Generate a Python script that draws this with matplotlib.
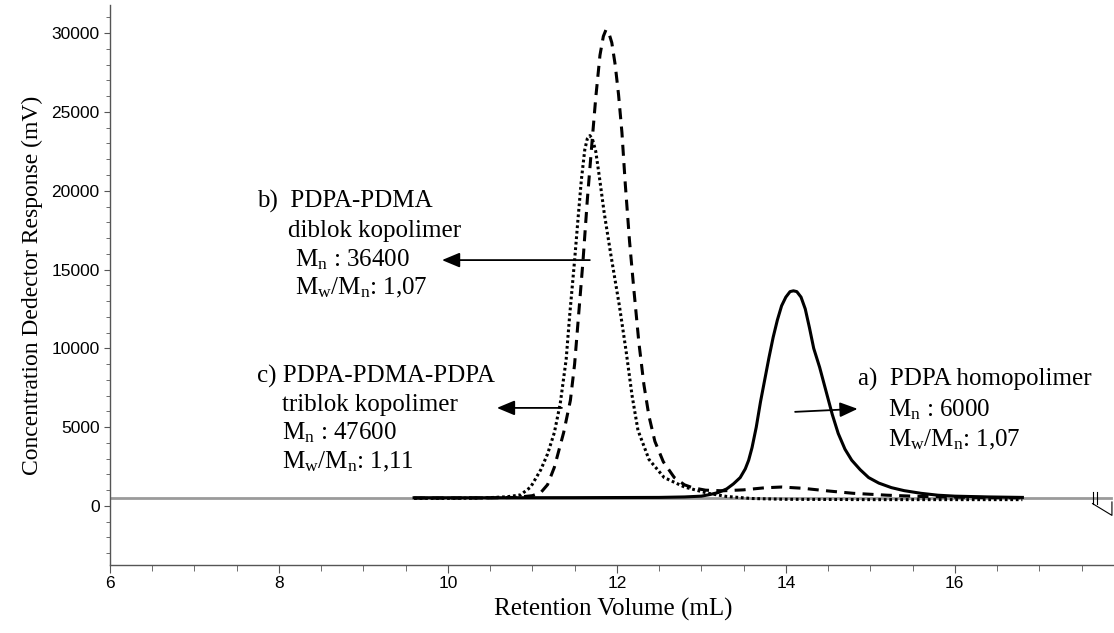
import numpy as np
import matplotlib
matplotlib.use("Agg")
import matplotlib.pyplot as plt
from matplotlib.ticker import MultipleLocator

plt.rcParams['mathtext.fontset'] = 'custom'
plt.rcParams['mathtext.rm'] = 'Liberation Serif'
plt.rcParams['mathtext.it'] = 'Liberation Serif:italic'

# a) PDPA homopolimer (solid)
homo_x = [9.6, 10.5, 11.5, 12.5, 12.8, 13.0, 13.1, 13.2, 13.3, 13.38, 13.46, 13.52, 13.56,
          13.60, 13.65, 13.70, 13.75, 13.80, 13.85, 13.90, 13.95, 14.00, 14.05, 14.09, 14.13,
          14.18, 14.23, 14.28, 14.33, 14.40, 14.48, 14.55, 14.62, 14.70, 14.78, 14.88, 14.98,
          15.1, 15.25, 15.4, 15.6, 15.8, 16.0, 16.4, 16.8]
homo_y = [520, 520, 525, 540, 570, 620, 720, 850, 1080, 1400, 1800, 2350, 2900,
          3700, 5000, 6600, 8000, 9400, 10700, 11800, 12700, 13250, 13600, 13650, 13600,
          13250, 12500, 11300, 10000, 8800, 7200, 5800, 4600, 3600, 2900, 2300, 1800,
          1450, 1160, 970, 800, 680, 620, 570, 540]

# b) PDPA-PDMA diblok (dashed)
diblok_x = [9.6, 10.0, 10.5, 10.8, 11.0, 11.1, 11.18, 11.26, 11.37, 11.45, 11.50, 11.55, 11.60,
            11.65, 11.70, 11.75, 11.80, 11.84, 11.87, 11.90, 11.94, 11.98, 12.02, 12.06, 12.10,
            12.15, 12.20, 12.26, 12.32, 12.38, 12.45, 12.55, 12.68, 12.80, 12.90, 13.05, 13.25,
            13.5, 13.75, 13.95, 14.2, 14.5, 14.8, 15.2, 15.6, 16.0, 16.4, 16.8]
diblok_y = [500, 500, 510, 540, 650, 850, 1350, 2450, 4650, 6700, 9000, 12300, 15600,
            19400, 22700, 25900, 28600, 29800, 30200, 30100, 29400, 28000, 26100, 23700, 20400,
            16800, 13800, 10400, 7700, 5700, 4100, 2800, 1800, 1340, 1150, 1000, 960,
            1020, 1150, 1200, 1120, 950, 800, 680, 600, 560, 530, 520]

# c) PDPA-PDMA-PDPA triblok (dotted)
triblok_x = [9.6, 10.0, 10.4, 10.7, 10.86, 10.98, 11.10, 11.18, 11.26, 11.33, 11.40, 11.44,
             11.50, 11.54, 11.58, 11.62, 11.65, 11.68, 11.71, 11.75, 11.79, 11.85, 11.93, 12.03,
             12.11, 12.18, 12.25, 12.38, 12.56, 12.80, 13.08, 13.3, 13.6, 14.0, 15.0, 16.0, 16.8]
triblok_y = [480, 480, 500, 580, 700, 1200, 2300, 3300, 4650, 6500, 9300, 12000,
             15600, 18200, 20700, 22600, 23300, 23500, 23300, 22500, 21000, 18600, 15900, 12700,
             9800, 7000, 4800, 2950, 1800, 1200, 800, 600, 470, 420, 400, 400, 400]

baseline_x = [6.0, 17.85]
baseline_y = [520, 520]

fig = plt.figure(figsize=(11.14, 6.33), dpi=100)
ax = fig.add_axes([0.0987, 0.1074, 0.904, 0.885])

ax.plot(baseline_x, baseline_y, color='#9a9a9a', lw=2.0, zorder=1)
ax.plot(homo_x, homo_y, color='black', lw=2.2, zorder=3)
ax.plot(diblok_x, diblok_y, color='black', lw=2.2, linestyle=(0, (3.6, 2.4)), zorder=3)
ax.plot(triblok_x, triblok_y, color='black', lw=2.2, linestyle=(0, (0.9, 0.9)), zorder=3)

# little end marker on the right of the baseline
ax.plot([17.63, 17.63], [900, 150], color='black', lw=0.8)
ax.plot([17.68, 17.68], [900, 150], color='black', lw=0.8)
ax.plot([17.63, 17.86, 17.86], [150, -600, 250], color='black', lw=0.8)

ax.set_xlim(6, 17.92)
ax.set_ylim(-3750, 31800)
ax.xaxis.set_major_locator(MultipleLocator(2))
ax.xaxis.set_minor_locator(MultipleLocator(0.5))
ax.yaxis.set_major_locator(MultipleLocator(5000))
ax.yaxis.set_minor_locator(MultipleLocator(1000))
ax.set_xticks([6, 8, 10, 12, 14, 16])

for s in ['top', 'right']:
    ax.spines[s].set_visible(False)
for s in ['left', 'bottom']:
    ax.spines[s].set_color('#555555')
    ax.spines[s].set_linewidth(1.0)

ax.tick_params(axis='both', which='both', colors='#555555', labelcolor='black')
ax.tick_params(axis='x', which='major', length=6, labelsize=12.5, pad=2)
ax.tick_params(axis='x', which='minor', length=4)
ax.tick_params(axis='y', which='major', length=4, labelsize=12.5)
ax.tick_params(axis='y', which='minor', length=3)
for lab in ax.get_xticklabels() + ax.get_yticklabels():
    lab.set_family('Liberation Sans')

ax.set_xlabel('Retention Volume (mL)', family='Liberation Serif', fontsize=18, labelpad=5)
ax.set_ylabel('Concentration Dedector Response (mV)', family='Liberation Serif', fontsize=17, labelpad=6)

tf = dict(family='Liberation Serif', fontsize=18, ha='left', va='center')
ax.text(7.74, 19300, 'b)  PDPA-PDMA', **tf)
ax.text(8.11, 17450, 'diblok kopolimer', **tf)
ax.text(8.19, 15600, r'M$_{\mathrm{n}}$ : 36400', **tf)
ax.text(8.19, 13850, r'M$_{\mathrm{w}}$/M$_{\mathrm{n}}$: 1,07', **tf)

ax.text(7.74, 8200, 'c) PDPA-PDMA-PDPA', **tf)
ax.text(8.04, 6400, 'triblok kopolimer', **tf)
ax.text(8.04, 4650, r'M$_{\mathrm{n}}$ : 47600', **tf)
ax.text(8.04, 2800, r'M$_{\mathrm{w}}$/M$_{\mathrm{n}}$: 1,11', **tf)

ax.text(14.85, 8000, 'a)  PDPA homopolimer', **tf)
ax.text(15.21, 6100, r'M$_{\mathrm{n}}$ : 6000', **tf)
ax.text(15.21, 4200, r'M$_{\mathrm{w}}$/M$_{\mathrm{n}}$: 1,07', **tf)

ap = dict(arrowstyle='-|>,head_length=0.6,head_width=0.25', color='black', lw=1.3,
          mutation_scale=18, shrinkA=0, shrinkB=0)
ax.annotate('', xy=(9.93, 15600), xytext=(11.68, 15600), arrowprops=ap)
ax.annotate('', xy=(10.58, 6220), xytext=(11.35, 6220), arrowprops=ap)
ax.annotate('', xy=(14.85, 6160), xytext=(14.11, 5970), arrowprops=ap)

fig.savefig('out.png', dpi=100)
